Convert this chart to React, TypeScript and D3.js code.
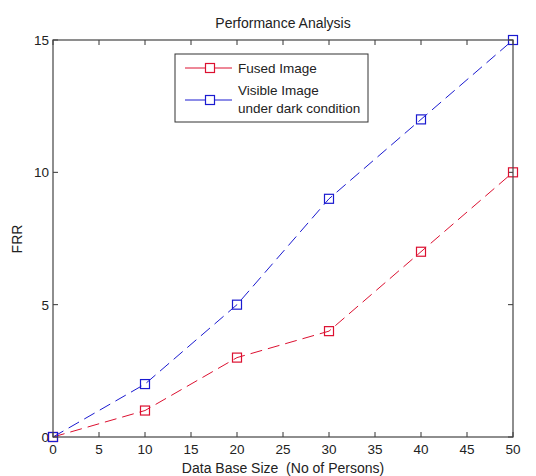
import React from "react";
import * as d3 from "d3";

const xValues = [0, 10, 20, 30, 40, 50];
const fusedValues = [0, 1, 3, 4, 7, 10];
const visibleValues = [0, 2, 5, 9, 12, 15];
const xTicks = [0, 5, 10, 15, 20, 25, 30, 35, 40, 45, 50];
const yTicks = [0, 5, 10, 15];
const seriesNames = ["Fused Image", "Visible Image"];
const seriesNameLine2 = ["", "under dark condition"];

const W = 536, H = 476;
const L = 53, R = 513, T = 40, B = 437;
const RED = "#dc1030";
const BLUE = "#1a1ad0";
const FONT = "'Liberation Sans', Arial, sans-serif";

export default function App() {
  const x = d3.scaleLinear().domain([0, 50]).range([L, R]);
  const y = d3.scaleLinear().domain([0, 15]).range([B, T]);
  const line = d3.line<number>().x((_, i) => x(xValues[i])).y((d) => y(d));
  const series = [
    { vals: fusedValues, color: RED },
    { vals: visibleValues, color: BLUE },
  ];
  const ms = 9;
  return (
    <svg width={W} height={H} style={{ position: "absolute", left: 0, top: 0, background: "#fff" }} fontFamily={FONT}>
      <rect x={0} y={0} width={W} height={H} fill="#fff" />
      <text x={(L + R) / 2} y={28} textAnchor="middle" fontSize={14} fill="#222">Performance Analysis</text>
      {xTicks.map((t) => (
        <g key={"x" + t}>
          <line x1={x(t)} x2={x(t)} y1={B} y2={B - 5} stroke="#333" />
          <line x1={x(t)} x2={x(t)} y1={T} y2={T + 5} stroke="#333" />
          <text x={x(t)} y={454} textAnchor="middle" fontSize={13.5} fill="#222">{t}</text>
        </g>
      ))}
      {yTicks.map((t) => (
        <g key={"y" + t}>
          <line x1={L} x2={L + 5} y1={y(t)} y2={y(t)} stroke="#333" />
          <line x1={R} x2={R - 5} y1={y(t)} y2={y(t)} stroke="#333" />
          <text x={L - 4} y={y(t) + 5} textAnchor="end" fontSize={13.5} fill="#222">{t}</text>
        </g>
      ))}
      <text x={283} y={473} textAnchor="middle" fontSize={14} fill="#222" style={{ whiteSpace: "pre" }} xmlSpace="preserve">Data Base Size  (No of Persons)</text>
      <text transform={`translate(22,239) rotate(-90)`} textAnchor="middle" fontSize={14} fill="#222">FRR</text>
      {series.map((s, si) => (
        <g key={"s" + si}>
          <path d={line(s.vals) || ""} fill="none" stroke={s.color} strokeWidth={1} strokeDasharray="12,6" />
          {s.vals.map((v, i) => (
            <rect key={i} x={x(xValues[i]) - ms / 2} y={y(v) - ms / 2} width={ms} height={ms} fill="none" stroke={s.color} strokeWidth={1.2} />
          ))}
        </g>
      ))}
      <rect x={L} y={T} width={R - L} height={B - T} fill="none" stroke="#444" strokeWidth={1.2} />
      <g>
        <rect x={175} y={54} width={193} height={68} fill="#fff" stroke="#333" strokeWidth={1} />
        {[0, 1].map((i) => {
          const ly = i === 0 ? 68 : 100;
          const c = i === 0 ? RED : BLUE;
          return (
            <g key={"lg" + i}>
              <line x1={185} x2={232} y1={ly} y2={ly} stroke={c} />
              <rect x={210 - ms / 2} y={ly - ms / 2} width={ms} height={ms} fill="#fff" stroke={c} strokeWidth={1.2} />
            </g>
          );
        })}
        <text x={238} y={73} fontSize={13.5} fill="#222">{seriesNames[0]}</text>
        <text x={238} y={95} fontSize={13.5} fill="#222">{seriesNames[1]}</text>
        <text x={238} y={113} fontSize={13.5} fill="#222">{seriesNameLine2[1]}</text>
      </g>
    </svg>
  );
}
